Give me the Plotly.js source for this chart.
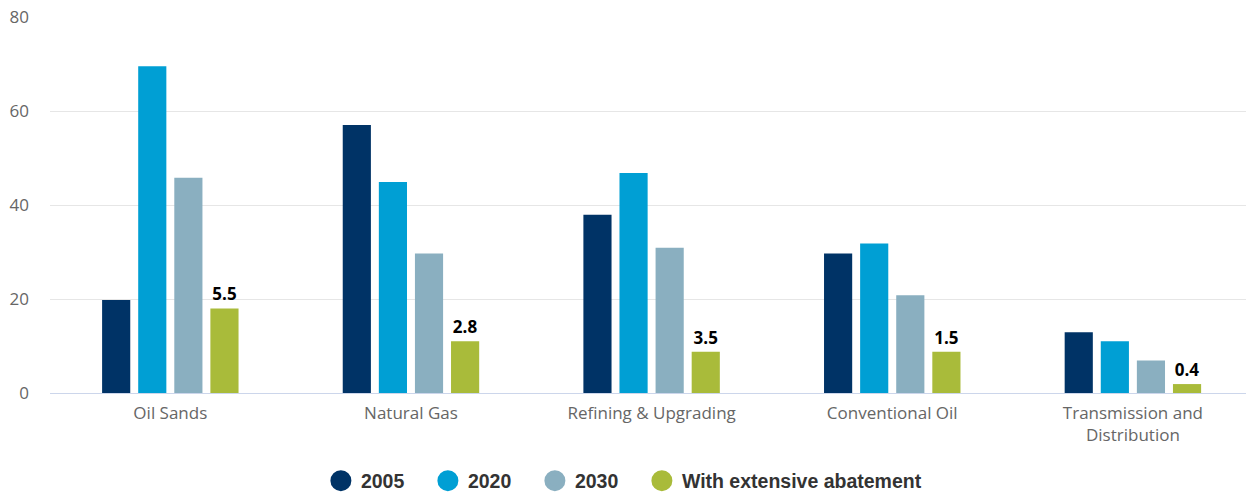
<!DOCTYPE html>
<html>
<head>
<meta charset="utf-8">
<script src="https://cdn.plot.ly/plotly-3.0.1.min.js"></script>
<style>
  html, body { margin: 0; padding: 0; background: #fff; }
  #chart { width: 1246px; height: 493px; }
</style>
</head>
<body>
<div id="chart"></div>
<script>
const categories = ['Oil Sands', 'Natural Gas', 'Refining & Upgrading', 'Conventional Oil', 'Transmission and<br>Distribution'];
const seriesNames = ['2005', '2020', '2030', 'With extensive abatement'];
const values2005 = [19.8, 57.0, 37.9, 29.7, 12.9];
const values2020 = [69.5, 44.9, 46.8, 31.8, 11.0];
const values2030 = [45.8, 29.7, 30.9, 20.8, 6.9];
const valuesAbatement = [18.0, 11.0, 8.8, 8.8, 1.9];
const abatementLabels = ['5.5', '2.8', '3.5', '1.5', '0.4'];
const yTicks = [0, 20, 40, 60, 80];

const colors = ['#003366', '#009fd4', '#8aafc0', '#a9bb3a'];
const allValues = [values2005, values2020, values2030, valuesAbatement];

const traces = [];
allValues.forEach((vals, i) => {
  const t = {
    type: 'bar',
    x: categories,
    y: vals,
    name: seriesNames[i],
    marker: { color: colors[i] },
    showlegend: false,
    hoverinfo: 'x+y'
  };
  if (i === 3) {
    t.text = abatementLabels;
    t.textposition = 'outside';
    t.constraintext = 'none';
    t.cliponaxis = false;
    t.textfont = { family: 'Open Sans', size: 17, color: '#000', weight: 'bold' };
  }
  traces.push(t);
});
// legend-only entries (circle markers)
seriesNames.forEach((n, i) => {
  traces.push({
    type: 'scatter',
    mode: 'markers',
    x: [null],
    y: [null],
    name: n,
    legendwidth: i === 3 ? 260 : 62,
    marker: { color: colors[i], size: 16, symbol: 'circle', line: { color: colors[i], width: 5 } },
    showlegend: true,
    hoverinfo: 'skip'
  });
});

const layout = {
  width: 1246,
  height: 493,
  margin: { l: 50, r: 0, t: 17, b: 100, autoexpand: false },
  paper_bgcolor: '#fff',
  plot_bgcolor: '#fff',
  barmode: 'group',
  bargap: 0.40,
  bargroupgap: 0.22,
  font: { family: 'Open Sans', size: 17, color: '#666' },
  xaxis: {
    type: 'category',
    range: [-0.5, 4.47],
    showgrid: false,
    showline: false,
    zeroline: false,
    ticks: '',
    ticklabelstandoff: 8,
    tickfont: { family: 'Open Sans', size: 17, color: '#666' },
    fixedrange: true
  },
  yaxis: {
    range: [0, 80],
    tickvals: yTicks,
    ticktext: yTicks.map(String),
    showgrid: true,
    gridcolor: '#e6e6e6',
    gridwidth: 1,
    zeroline: true,
    zerolinecolor: '#ccd6eb',
    zerolinewidth: 1,
    showline: false,
    ticks: '',
    ticklabelstandoff: 20,
    tickfont: { family: 'Open Sans', size: 17, color: '#666' },
    fixedrange: true
  },
  showlegend: true,
  legend: {
    orientation: 'h',
    x: 0.2265,
    xanchor: 'left',
    y: -0.234,
    yanchor: 'middle',
    font: { family: 'Liberation Sans', size: 19.5, color: '#333', weight: 'bold' },
    bgcolor: 'rgba(0,0,0,0)'
  }
};

Plotly.newPlot('chart', traces, layout, { displayModeBar: false, staticPlot: true });
</script>
</body>
</html>
